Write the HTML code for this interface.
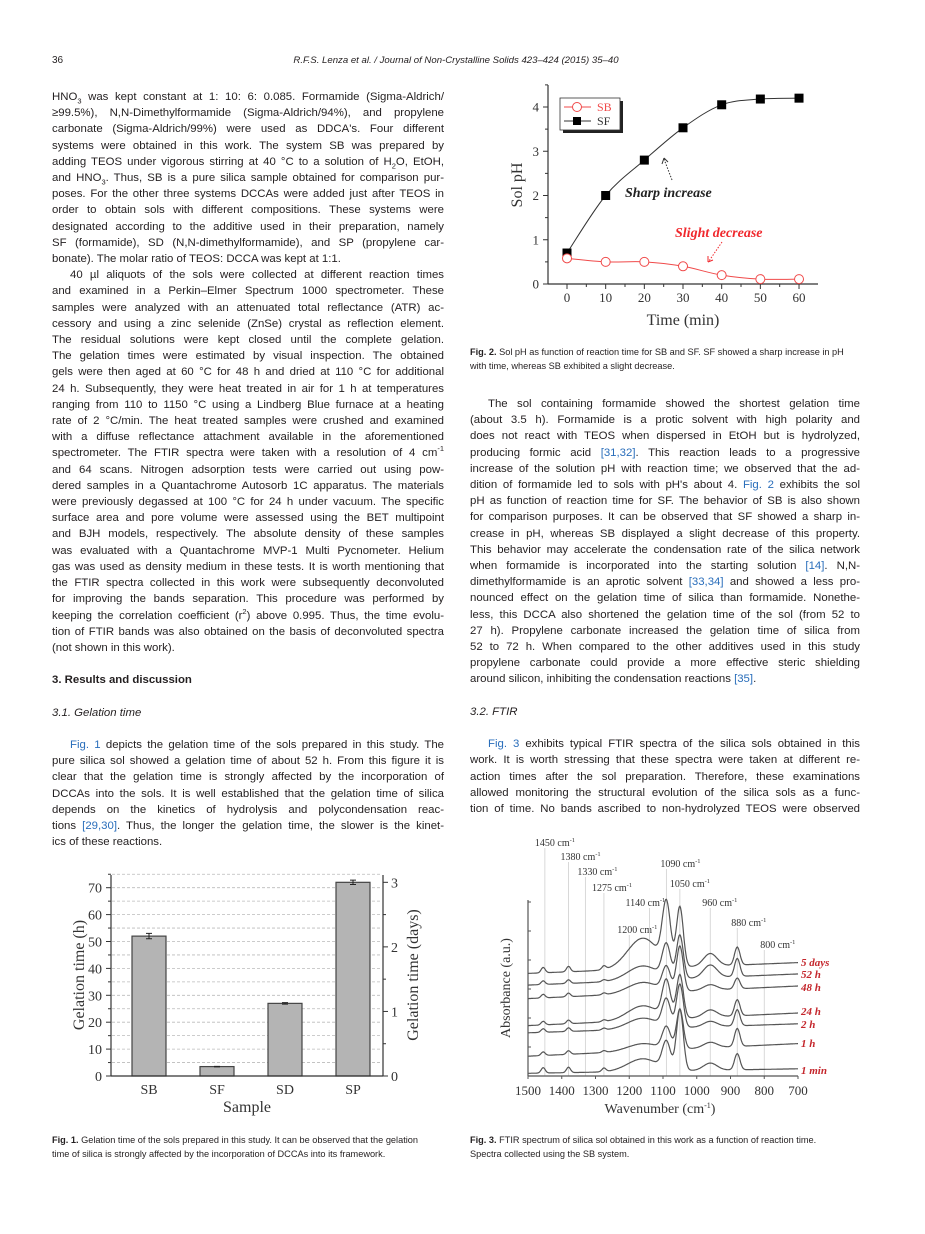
<!DOCTYPE html>
<html><head><meta charset="utf-8">
<style>
html,body{margin:0;padding:0;background:#fff;}
body{width:925px;height:1234px;position:relative;overflow:hidden;font-family:"Liberation Sans",sans-serif;color:#231f20;}
.col{position:absolute;font-size:11.4px;line-height:16.2px;}
.ln{white-space:nowrap;overflow:visible;}
.ln.ind{padding-left:18px;}
.lnk{color:#2a6ebb;}
sub,sup{font-size:7.5px;line-height:0;}
.h{font-weight:bold;}
.hi{font-style:italic;}
.cap{position:absolute;font-size:9.2px;line-height:14px;}
.cap b{font-weight:bold;}
svg text{font-family:"Liberation Serif",serif;}
</style></head>
<body>
<div style="position:absolute;left:52px;top:55px;font-size:10px;">36</div>
<div style="position:absolute;left:206px;width:500px;top:55px;font-size:9.6px;font-style:italic;text-align:center;white-space:nowrap;">R.F.S. Lenza et al. / Journal of Non-Crystalline Solids 423–424 (2015) 35–40</div>

<div class="col" style="left:52px;top:89px;width:392px;">
<div class="ln"><span>HNO<sub>3</sub> was kept constant at 1: 10: 6: 0.085. Formamide (Sigma-Aldrich/</span></div>
<div class="ln"><span>≥99.5%), N,N-Dimethylformamide (Sigma-Aldrich/94%), and propylene</span></div>
<div class="ln"><span>carbonate (Sigma-Aldrich/99%) were used as DDCA's. Four different</span></div>
<div class="ln"><span>systems were obtained in this work. The system SB was prepared by</span></div>
<div class="ln"><span>adding TEOS under vigorous stirring at 40 °C to a solution of H<sub>2</sub>O, EtOH,</span></div>
<div class="ln"><span>and HNO<sub>3</sub>. Thus, SB is a pure silica sample obtained for comparison pur-</span></div>
<div class="ln"><span>poses. For the other three systems DCCAs were added just after TEOS in</span></div>
<div class="ln"><span>order to obtain sols with different compositions. These systems were</span></div>
<div class="ln"><span>designated according to the additive used in their preparation, namely</span></div>
<div class="ln"><span>SF (formamide), SD (N,N-dimethylformamide), and SP (propylene car-</span></div>
<div class="ln last"><span>bonate). The molar ratio of TEOS: DCCA was kept at 1:1.</span></div>
<div class="ln ind"><span>40 µl aliquots of the sols were collected at different reaction times</span></div>
<div class="ln"><span>and examined in a Perkin–Elmer Spectrum 1000 spectrometer. These</span></div>
<div class="ln"><span>samples were analyzed with an attenuated total reflectance (ATR) ac-</span></div>
<div class="ln"><span>cessory and using a zinc selenide (ZnSe) crystal as reflection element.</span></div>
<div class="ln"><span>The residual solutions were kept closed until the complete gelation.</span></div>
<div class="ln"><span>The gelation times were estimated by visual inspection. The obtained</span></div>
<div class="ln"><span>gels were then aged at 60 °C for 48 h and dried at 110 °C for additional</span></div>
<div class="ln"><span>24 h. Subsequently, they were heat treated in air for 1 h at temperatures</span></div>
<div class="ln"><span>ranging from 110 to 1150 °C using a Lindberg Blue furnace at a heating</span></div>
<div class="ln"><span>rate of 2 °C/min. The heat treated samples were crushed and examined</span></div>
<div class="ln"><span>with a diffuse reflectance attachment available in the aforementioned</span></div>
<div class="ln"><span>spectrometer. The FTIR spectra were taken with a resolution of 4 cm<sup>-1</sup></span></div>
<div class="ln"><span>and 64 scans. Nitrogen adsorption tests were carried out using pow-</span></div>
<div class="ln"><span>dered samples in a Quantachrome Autosorb 1C apparatus. The materials</span></div>
<div class="ln"><span>were previously degassed at 100 °C for 24 h under vacuum. The specific</span></div>
<div class="ln"><span>surface area and pore volume were assessed using the BET multipoint</span></div>
<div class="ln"><span>and BJH models, respectively. The absolute density of these samples</span></div>
<div class="ln"><span>was evaluated with a Quantachrome MVP-1 Multi Pycnometer. Helium</span></div>
<div class="ln"><span>gas was used as density medium in these tests. It is worth mentioning that</span></div>
<div class="ln"><span>the FTIR spectra collected in this work were subsequently deconvoluted</span></div>
<div class="ln"><span>for improving the bands separation. This procedure was performed by</span></div>
<div class="ln"><span>keeping the correlation coefficient (r<sup>2</sup>) above 0.995. Thus, the time evolu-</span></div>
<div class="ln"><span>tion of FTIR bands was also obtained on the basis of deconvoluted spectra</span></div>
<div class="ln last"><span>(not shown in this work).</span></div>
<div style="height:16.2px"></div>
<div class="ln last h"><span>3. Results and discussion</span></div>
<div style="height:16.2px"></div>
<div class="ln last hi"><span>3.1. Gelation time</span></div>
<div style="height:16.2px"></div>
<div class="ln ind"><span><span class="lnk">Fig. 1</span> depicts the gelation time of the sols prepared in this study. The</span></div>
<div class="ln"><span>pure silica sol showed a gelation time of about 52 h. From this figure it is</span></div>
<div class="ln"><span>clear that the gelation time is strongly affected by the incorporation of</span></div>
<div class="ln"><span>DCCAs into the sols. It is well established that the gelation time of silica</span></div>
<div class="ln"><span>depends on the kinetics of hydrolysis and polycondensation reac-</span></div>
<div class="ln"><span>tions <span class="lnk">[29,30]</span>. Thus, the longer the gelation time, the slower is the kinet-</span></div>
<div class="ln last"><span>ics of these reactions.</span></div>
</div>

<div class="col" style="left:470px;top:396px;width:390px;">
<div class="ln ind"><span>The sol containing formamide showed the shortest gelation time</span></div>
<div class="ln"><span>(about 3.5 h). Formamide is a protic solvent with high polarity and</span></div>
<div class="ln"><span>does not react with TEOS when dispersed in EtOH but is hydrolyzed,</span></div>
<div class="ln"><span>producing formic acid <span class="lnk">[31,32]</span>. This reaction leads to a progressive</span></div>
<div class="ln"><span>increase of the solution pH with reaction time; we observed that the ad-</span></div>
<div class="ln"><span>dition of formamide led to sols with pH's about 4. <span class="lnk">Fig. 2</span> exhibits the sol</span></div>
<div class="ln"><span>pH as function of reaction time for SF. The behavior of SB is also shown</span></div>
<div class="ln"><span>for comparison purposes. It can be observed that SF showed a sharp in-</span></div>
<div class="ln"><span>crease in pH, whereas SB displayed a slight decrease of this property.</span></div>
<div class="ln"><span>This behavior may accelerate the condensation rate of the silica network</span></div>
<div class="ln"><span>when formamide is incorporated into the starting solution <span class="lnk">[14]</span>. N,N-</span></div>
<div class="ln"><span>dimethylformamide is an aprotic solvent <span class="lnk">[33,34]</span> and showed a less pro-</span></div>
<div class="ln"><span>nounced effect on the gelation time of silica than formamide. Nonethe-</span></div>
<div class="ln"><span>less, this DCCA also shortened the gelation time of the sol (from 52 to</span></div>
<div class="ln"><span>27 h). Propylene carbonate increased the gelation time of silica from</span></div>
<div class="ln"><span>52 to 72 h. When compared to the other additives used in this study</span></div>
<div class="ln"><span>propylene carbonate could provide a more effective steric shielding</span></div>
<div class="ln last"><span>around silicon, inhibiting the condensation reactions <span class="lnk">[35]</span>.</span></div>
<div style="height:16.2px"></div>
<div class="ln last hi"><span>3.2. FTIR</span></div>
<div style="height:16.2px"></div>
<div class="ln ind"><span><span class="lnk">Fig. 3</span> exhibits typical FTIR spectra of the silica sols obtained in this</span></div>
<div class="ln"><span>work. It is worth stressing that these spectra were taken at different re-</span></div>
<div class="ln"><span>action times after the sol preparation. Therefore, these examinations</span></div>
<div class="ln"><span>allowed monitoring the structural evolution of the silica sols as a func-</span></div>
<div class="ln"><span>tion of time. No bands ascribed to non-hydrolyzed TEOS were observed</span></div>
</div>

<div class="cap" style="left:470px;top:345px;width:392px;"><b>Fig. 2.</b> Sol pH as function of reaction time for SB and SF. SF showed a sharp increase in pH<br>with time, whereas SB exhibited a slight decrease.</div>
<div class="cap" style="left:52px;top:1133px;width:392px;"><b>Fig. 1.</b> Gelation time of the sols prepared in this study. It can be observed that the gelation<br>time of silica is strongly affected by the incorporation of DCCAs into its framework.</div>
<div class="cap" style="left:470px;top:1133px;width:392px;"><b>Fig. 3.</b> FTIR spectrum of silica sol obtained in this work as a function of reaction time.<br>Spectra collected using the SB system.</div>

<svg id="figs" width="925" height="1234" style="position:absolute;left:0;top:0;" xmlns="http://www.w3.org/2000/svg">
<g id="fig2"></g>
<g id="fig1"></g>
<g id="fig3"></g>
</svg>

<script>
// ---------- Fig 2 data ----------
const phTimes = [0, 10, 20, 30, 40, 50, 60];
const phSB = [0.58, 0.50, 0.50, 0.40, 0.20, 0.11, 0.11];
const phSF = [0.70, 2.00, 2.80, 3.53, 4.05, 4.18, 4.20];
const phXTicks = [0, 10, 20, 30, 40, 50, 60];
const phYTicks = [0, 1, 2, 3, 4];
// ---------- Fig 1 data ----------
const gelCategories = ["SB", "SF", "SD", "SP"];
const gelHours = [52, 3.5, 27, 72];
const gelErrors = [1.0, 0.1, 0.3, 0.8];
const gelYTicks = [0, 10, 20, 30, 40, 50, 60, 70];
const gelDayTicks = [0, 1, 2, 3];
// ---------- Fig 3 data ----------
const ftirXTicks = [1500, 1400, 1300, 1200, 1100, 1000, 900, 800, 700];
const ftirBandLabels = [1450, 1380, 1330, 1275, 1200, 1140, 1090, 1050, 960, 880, 800];
const ftirPeakCenters = [1455, 1380, 1275, 1160, 1090, 1050, 960, 880];
const ftirPeakWidths = [6, 6, 6, 45, 12, 10, 20, 8];
const ftirSeriesNames = ["5 days", "52 h", "48 h", "24 h", "2 h", "1 h", "1 min"];
const ftirBaseStart = [57, 50.5, 43, 28, 24, 11, 1.5];
const ftirBaseEnd = [63, 56.7, 50, 35, 29, 18, 4];
const ftirPeaks5d = [3, 3, 2, 17, 33, 33, 7, 10];
const ftirPeaks52h = [2, 2, 1, 8, 18, 24, 7, 10];
const ftirPeaks48h = [2, 2, 1, 6, 13, 25, 3, 6];
const ftirPeaks24h = [2, 2, 1, 8, 20, 24, 4, 9];
const ftirPeaks2h = [2, 2, 1, 6, 15, 24, 3, 9];
const ftirPeaks1h = [2, 2, 1, 4, 12, 22, 3, 10];
const ftirPeaks1min = [3, 3, 2, 7, 15, 34, 4, 9];

const NS = "http://www.w3.org/2000/svg";
function mk(parent, tag, attrs, text) {
  const e = document.createElementNS(NS, tag);
  for (const k in attrs) e.setAttribute(k, attrs[k]);
  if (text !== undefined) e.textContent = text;
  parent.appendChild(e);
  return e;
}
function smooth(pts) {
  let d = "M" + pts[0][0] + "," + pts[0][1];
  for (let i = 0; i < pts.length - 1; i++) {
    const p0 = pts[Math.max(0, i - 1)], p1 = pts[i], p2 = pts[i + 1], p3 = pts[Math.min(pts.length - 1, i + 2)];
    const c1 = [p1[0] + (p2[0] - p0[0]) / 6, p1[1] + (p2[1] - p0[1]) / 6];
    const c2 = [p2[0] - (p3[0] - p1[0]) / 6, p2[1] - (p3[1] - p1[1]) / 6];
    d += " C" + c1[0] + "," + c1[1] + " " + c2[0] + "," + c2[1] + " " + p2[0] + "," + p2[1];
  }
  return d;
}

// ===== Fig 2 =====
(function () {
  const g = document.getElementById("fig2");
  const X = t => 567 + t * 3.867;
  const Y = v => 284 - v * 44.25;
  const ax = "#333";
  let e;
  e = mk(g, "line", { x1: 548, y1: 85, x2: 548, y2: 284, stroke: ax, "stroke-width": 1.2 });
   
  e = mk(g, "line", { x1: 548, y1: 284, x2: 818, y2: 284, stroke: ax, "stroke-width": 1.2 });
   
  phXTicks.forEach(t => {
    mk(g, "line", { x1: X(t), y1: 284, x2: X(t), y2: 289, stroke: ax });
    if (t < 60) mk(g, "line", { x1: X(t + 5), y1: 284, x2: X(t + 5), y2: 287, stroke: ax });
    e = mk(g, "text", { x: X(t), y: 302, "font-size": 13, "text-anchor": "middle", fill: "#333" }, String(t));
     
  });
  phYTicks.forEach(v => {
    mk(g, "line", { x1: 543, y1: Y(v), x2: 548, y2: Y(v), stroke: ax });
    mk(g, "line", { x1: 545, y1: Y(v + 0.5), x2: 548, y2: Y(v + 0.5), stroke: ax });
    e = mk(g, "text", { x: 539, y: Y(v) + 4.5, "font-size": 13, "text-anchor": "end", fill: "#333" }, String(v));
     
  });
  e = mk(g, "text", { x: 683, y: 325, "font-size": 16, "text-anchor": "middle", fill: "#333" }, "Time (min)");
   
  e = mk(g, "text", { x: 0, y: 0, "font-size": 16, "text-anchor": "middle", fill: "#333", transform: "translate(522,185) rotate(-90)" }, "Sol pH");
   
  e = mk(g, "path", { d: smooth(phTimes.map((t, i) => [X(t), Y(phSF[i])])), fill: "none", stroke: "#333", "stroke-width": 1 });
   
  e = mk(g, "path", { d: smooth(phTimes.map((t, i) => [X(t), Y(phSB[i])])), fill: "none", stroke: "#f04a4a", "stroke-width": 1 });
   
  phTimes.forEach((t, i) => {
    e = mk(g, "rect", { x: X(t) - 4.5, y: Y(phSF[i]) - 4.5, width: 9, height: 9, fill: "#000" });
     
    e = mk(g, "circle", { cx: X(t), cy: Y(phSB[i]), r: 4.5, fill: "#fff", stroke: "#f04a4a", "stroke-width": 1 });
     
  });
  const lg = mk(g, "g", {});
   
  mk(lg, "rect", { x: 563, y: 101, width: 60, height: 32, fill: "#222" });
  mk(lg, "rect", { x: 560, y: 98, width: 60, height: 32, fill: "#fff", stroke: "#333", "stroke-width": 0.8 });
  mk(lg, "line", { x1: 564, y1: 107, x2: 591, y2: 107, stroke: "#f04a4a" });
  mk(lg, "circle", { cx: 577, cy: 107, r: 4.5, fill: "#fff", stroke: "#f04a4a" });
  e = mk(lg, "text", { x: 597, y: 111, "font-size": 12, fill: "#f04a4a" }, "SB");
   
  mk(lg, "line", { x1: 564, y1: 121, x2: 591, y2: 121, stroke: "#333" });
  mk(lg, "rect", { x: 573, y: 117, width: 8, height: 8, fill: "#000" });
  e = mk(lg, "text", { x: 597, y: 125, "font-size": 12, fill: "#333" }, "SF");
   
  e = mk(g, "text", { x: 625, y: 197, "font-size": 14, "font-weight": "bold", "font-style": "italic", fill: "#222" }, "Sharp increase");
   
  mk(g, "line", { x1: 672, y1 :180, x2: 664, y2: 159, stroke: "#333", "stroke-dasharray": "1.5,1.5" });
  mk(g, "path", { d: "M664,158 l-2,6 M664,158 l4,4", stroke: "#333", fill: "none" });
  e = mk(g, "text", { x: 675, y: 237, "font-size": 14, "font-weight": "bold", "font-style": "italic", fill: "#f0282d" }, "Slight decrease");
   
  mk(g, "line", { x1: 722, y1: 242, x2: 709, y2: 261, stroke: "#f0282d", "stroke-dasharray": "1.5,1.5" });
  mk(g, "path", { d: "M708,262 l0,-6 M708,262 l5,-2", stroke: "#f0282d", fill: "none" });
})();

// ===== Fig 1 =====
(function () {
  const g = document.getElementById("fig1");
  const X = i => 149 + i * 68;
  const Y = h => 1076 - h * 2.69;
  const YD = d => Y(d * 24);
  let e;
  for (let h = 5; h <= 75; h += 5) {
    mk(g, "line", { x1: 112, y1: Y(h), x2: 382, y2: Y(h), stroke: "#bbb", "stroke-width": 0.8, "stroke-dasharray": "3,2" });
  }
  gelCategories.forEach((c, i) => {
    e = mk(g, "rect", { x: X(i) - 17, y: Y(gelHours[i]), width: 34, height: Y(0) - Y(gelHours[i]), fill: "#b4b4b4", stroke: "#444", "stroke-width": 1.2 });
     
    const t = Y(gelHours[i] + gelErrors[i]), b = Y(gelHours[i] - gelErrors[i]);
    e = mk(g, "path", { d: `M${X(i)},${t} V${b} M${X(i) - 3},${t} H${X(i) + 3} M${X(i) - 3},${b} H${X(i) + 3}`, stroke: "#222", fill: "none" });
     
    e = mk(g, "text", { x: X(i), y: 1094, "font-size": 14, "text-anchor": "middle", fill: "#333" }, c);
     
  });
  mk(g, "line", { x1: 111, y1: 875, x2: 111, y2: 1076, stroke: "#333", "stroke-width": 1.2 });
  mk(g, "line", { x1: 383, y1: 875, x2: 383, y2: 1076, stroke: "#333", "stroke-width": 1.2 });
  mk(g, "line", { x1: 111, y1: 1076, x2: 383, y2: 1076, stroke: "#333", "stroke-width": 1.2 });
  gelYTicks.forEach(h => {
    mk(g, "line", { x1: 106, y1: Y(h), x2: 111, y2: Y(h), stroke: "#333" });
    mk(g, "line", { x1: 108, y1: Y(h + 5), x2: 111, y2: Y(h + 5), stroke: "#333" });
    e = mk(g, "text", { x: 102, y: Y(h) + 5, "font-size": 14, "text-anchor": "end", fill: "#333" }, String(h));
     
  });
  gelDayTicks.forEach(d => {
    mk(g, "line", { x1: 383, y1: YD(d), x2: 388, y2: YD(d), stroke: "#333" });
    if (d < 3) mk(g, "line", { x1: 383, y1: YD(d + 0.5), x2: 386, y2: YD(d + 0.5), stroke: "#333" });
    e = mk(g, "text", { x: 391, y: YD(d) + 5, "font-size": 14, fill: "#333" }, String(d));
     
  });
  e = mk(g, "text", { x: 247, y: 1112, "font-size": 16, "text-anchor": "middle", fill: "#333" }, "Sample");
   
  e = mk(g, "text", { x: 0, y: 0, "font-size": 16, "text-anchor": "middle", fill: "#333", transform: "translate(84,975) rotate(-90)" }, "Gelation time (h)");
   
  e = mk(g, "text", { x: 0, y: 0, "font-size": 16, "text-anchor": "middle", fill: "#333", transform: "translate(418,975) rotate(-90)" }, "Gelation time (days)");
   
})();

// ===== Fig 3 =====
(function () {
  const g = document.getElementById("fig3");
  const X = w => 528 + (1500 - w) * 0.3375;
  const Y = a => 1076 - a * 1.8;
  const labelY = [843, 857, 872, 888, 930, 903, 864, 884, 903, 923, 945];
  const labelDx = [-10, -8, -8, -12, -12, -24, -6, -10, -8, -6, -4];
  let e;
  ftirBandLabels.forEach((w, i) => {
    mk(g, "line", { x1: X(w), y1: labelY[i] + 5, x2: X(w), y2: 1076, stroke: "#cfcfcf", "stroke-width": 0.8 });
    const t = mk(g, "text", { x: X(w) + labelDx[i], y: labelY[i] + 3, "font-size": 10, fill: "#333" });
     
    t.appendChild(document.createTextNode(w + " cm"));
    mk(t, "tspan", { dy: -4, "font-size": 6.5 }, "-1");
  });
  const peaks = [ftirPeaks5d, ftirPeaks52h, ftirPeaks48h, ftirPeaks24h, ftirPeaks2h, ftirPeaks1h, ftirPeaks1min];
  const labY = [962, 974, 987, 1011, 1024, 1043, 1070];
  peaks.forEach((pk, s) => {
    let d = "";
    for (let w = 1500; w >= 700; w -= 2) {
      let a = ftirBaseStart[s] + (ftirBaseEnd[s] - ftirBaseStart[s]) * (1500 - w) / 800;
      ftirPeakCenters.forEach((c, j) => { a += pk[j] * Math.exp(-Math.pow(w - c, 2) / (2 * ftirPeakWidths[j] * ftirPeakWidths[j])); });
      d += (w === 1500 ? "M" : "L") + X(w).toFixed(1) + "," + Y(a).toFixed(1);
    }
    e = mk(g, "path", { d: d, fill: "none", stroke: "#555", "stroke-width": 1.2 });
    
    
    e = mk(g, "text", { x: 801, y: labY[s] + 4, "font-size": 11, "font-weight": "bold", "font-style": "italic", fill: "#c4262c" }, ftirSeriesNames[s]);
     
  });
  mk(g, "line", { x1: 528, y1: 900, x2: 528, y2: 1076, stroke: "#555", "stroke-width": 1.2 });
  for (let k = 0; k <= 6; k++) mk(g, "line", { x1: 528, y1: 1076 - k * 29, x2: 531, y2: 1076 - k * 29, stroke: "#555" });
  mk(g, "line", { x1: 528, y1: 1076, x2: 798, y2: 1076, stroke: "#555", "stroke-width": 1.2 });
  ftirXTicks.forEach(w => {
    mk(g, "line", { x1: X(w), y1: 1076, x2: X(w), y2: 1079, stroke: "#555" });
    e = mk(g, "text", { x: X(w), y: 1095, "font-size": 13, "text-anchor": "middle", fill: "#333" }, String(w));
     
  });
  const t = mk(g, "text", { x: 660, y: 1113, "font-size": 14, "text-anchor": "middle", fill: "#333" });
   
  t.appendChild(document.createTextNode("Wavenumber (cm"));
  mk(t, "tspan", { dy: -5, "font-size": 8 }, "-1");
  mk(t, "tspan", { dy: 5 }, ")");
  e = mk(g, "text", { x: 0, y: 0, "font-size": 14, "text-anchor": "middle", fill: "#333", transform: "translate(510,988) rotate(-90)" }, "Absorbance (a.u.)");
   
})();

// ---------- text line justification ----------
document.querySelectorAll(".ln").forEach(el => {
  const span = el.firstElementChild;
  const pad = el.classList.contains("ind") ? 18 : 0;
  const W = el.parentElement.clientWidth - pad;
  const nat = span.getBoundingClientRect().width;
  const spaces = (span.textContent.match(/ /g) || []).length;
  if (!spaces) return;
  const last = el.classList.contains("last");
  if (last && nat <= W) return;
  span.style.wordSpacing = ((W - nat) / spaces) + "px";
});
</script>
</body></html>
